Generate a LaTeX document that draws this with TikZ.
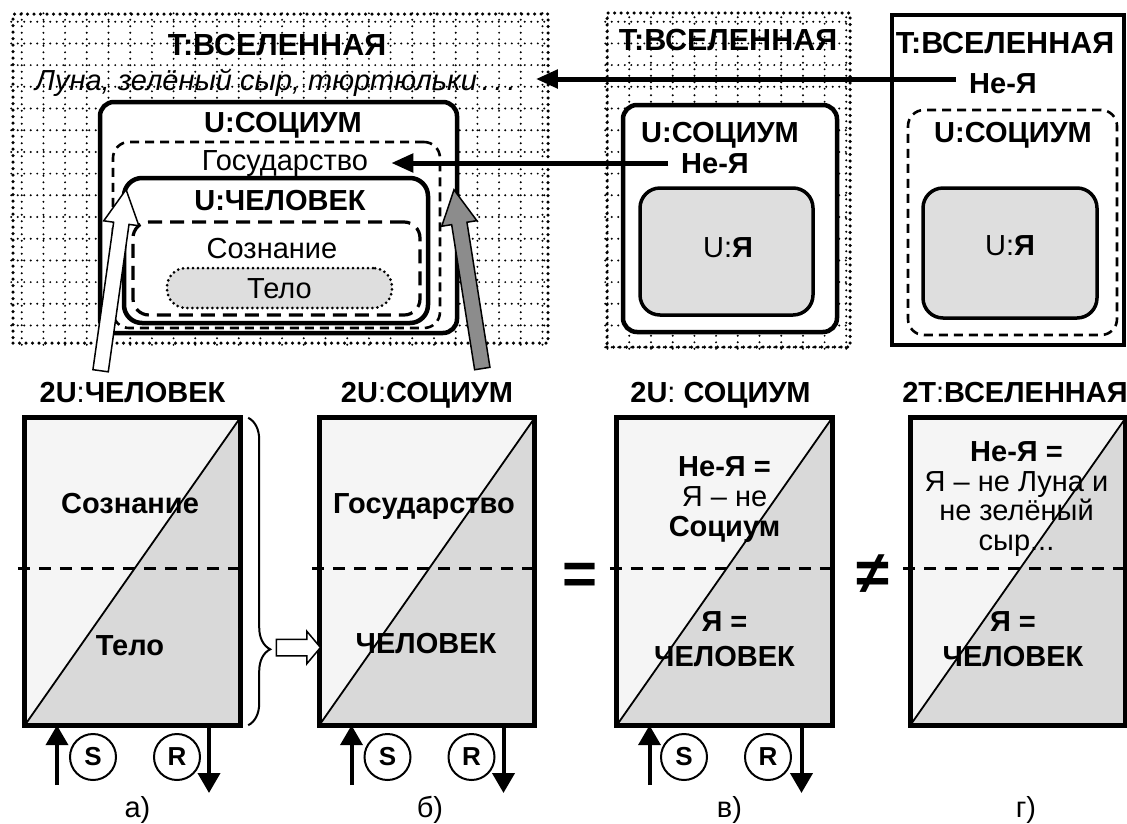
\documentclass[tikz,border=0pt]{standalone}
\usepackage{fontspec}
\setmainfont{Liberation Sans}
\usetikzlibrary{arrows.meta,positioning,shapes.arrows,decorations.pathreplacing}

\begin{document}
\begin{tikzpicture}[
  x=1pt, y=-1pt,
  txt/.style={inner sep=0pt, text height=21pt, text depth=0pt, font=\fontsize{29}{30}\selectfont},
  btxt/.style={txt, font=\fontsize{29}{30}\selectfont\bfseries},
  ttxt/.style={txt, font=\fontsize{30.5}{31}\selectfont\bfseries},
  multi/.style={inner sep=0pt, anchor=north, align=center, font=\fontsize{29}{30}\selectfont},
  panel/.style={draw, inner sep=0pt, line width=3.5pt, line cap=round, dash pattern=on 0pt off 6.5pt},
  gridline/.style={line width=2.2pt, line cap=round, dash pattern=on 0pt off 6.5pt},
  rbox/.style={draw, fill=white, inner sep=0pt, line width=4.5pt, rounded corners=14pt},
  dbox/.style={draw, inner sep=0pt, line width=2.6pt, dash pattern=on 9pt off 6pt, rounded corners=16pt},
  ybox/.style={draw, fill=black!13, inner sep=0pt, line width=3.5pt, rounded corners=20pt},
  conn/.style={line width=5pt, -{Triangle[length=22pt,width=18pt]}},
  fat/.style={single arrow, draw, line width=1.5pt, inner xsep=0pt, inner ysep=7pt,
    single arrow head extend=10pt, single arrow tip angle=55},
  pbox/.style={fill=black!4, inner sep=0pt, minimum width=215pt, minimum height=307pt},
  lower/.style={fill=black!15},
  diag/.style={line width=1.8pt},
  mid/.style={line width=3pt, dash pattern=on 12pt off 9pt, shorten <=-7pt, shorten >=-7pt},
  frame/.style={line width=5pt},
  brc/.style={decorate, decoration={brace, amplitude=22pt, aspect=0.753}, line width=2pt},
  sr/.style={circle, draw, line width=2pt, inner sep=0pt, minimum size=46pt, font=\fontsize{26}{26}\selectfont\bfseries},
  sig/.style={line width=4pt, -{Triangle[length=20pt,width=22pt]}},
  big/.style={inner sep=0pt, anchor=base, font=\fontsize{60}{60}\selectfont\bfseries}
]
  \useasboundingbox (0,0) rectangle (1127,823);

  % Panel izquierdo: T:ВСЕЛЕННАЯ con U:СОЦИУМ y U:ЧЕЛОВЕК
  \node[panel, minimum width=535pt, minimum height=329pt] (univL) at (280.5,178.5) {};
  \draw[gridline] (univL.south west) grid[step=21.7pt] (univL.north east);
  \node[ttxt] (tL) at (277,45) {T:ВСЕЛЕННАЯ};
  \node[txt, anchor=west, font=\fontsize{29}{30}\selectfont\itshape] (luna) at (35,80) {Луна, зелёный сыр, тюртюльки\,.\,.\,.};
  \node[rbox, minimum width=357pt, minimum height=231pt] (socL) at (278.5,217.5) {};
  \node[btxt] (socLt) at (283,122) {U:СОЦИУМ};
  \node[dbox, minimum width=327pt, minimum height=186pt] (gosL) at (276.5,235) {};
  \node[txt] (gos) at (285,160) {Государство};
  \node[rbox, rounded corners=18pt, minimum width=304pt, minimum height=145pt] (chelL) at (276,250.5) {};
  \node[btxt] (chelLt) at (280,200) {U:ЧЕЛОВЕК};
  \node[dbox, line width=3.2pt, dash pattern=on 14pt off 8pt, minimum width=287pt, minimum height=93pt] (sozL) at (276.5,268.5) {};
  \node[txt] (soz) at (272,248) {Сознание};
  \node[txt, draw, fill=black!13, line width=3pt, line cap=round, dash pattern=on 0pt off 5pt,
    rounded corners=19pt, minimum width=225pt, minimum height=40pt] (telo) at (279.5,288) {Тело};

  % Panel central
  \node[panel, minimum width=243pt, minimum height=334pt] (univM) at (728.5,180) {};
  \draw[gridline] (univM.south west) grid[step=21.7pt] (univM.north east);
  \node[ttxt] (tM) at (728,40) {T:ВСЕЛЕННАЯ};
  \node[rbox, minimum width=214pt, minimum height=227pt] (socM) at (730,218.5) {};
  \node[btxt] (socMt) at (720,132) {U:СОЦИУМ};
  \node[btxt] (neyaM) at (715,163) {Не-Я};
  \node[ybox, minimum width=173pt, minimum height=127pt] (yaM) at (726.5,251.5) {};
  \node[txt] (yaMt) at (728,247) {U:\textbf{Я}};

  % Panel derecho
  \node[draw, inner sep=0pt, line width=4pt, minimum width=232pt, minimum height=330pt] (univR) at (1008,180) {};
  \node[ttxt] (tR) at (1005,43) {T:ВСЕЛЕННАЯ};
  \node[btxt] (neyaT) at (1003,83) {Не-Я};
  \node[dbox, minimum width=209pt, minimum height=225pt] (socR) at (1012.5,222.5) {};
  \node[btxt] (socRt) at (1013,132) {U:СОЦИУМ};
  \node[ybox, minimum width=174pt, minimum height=130pt] (yaR) at (1010,253) {};
  \node[txt] (yaRt) at (1010,245) {U:\textbf{Я}};

  % Flechas Не-Я
  \draw[conn, shorten <=13pt, shorten >=20pt] ([yshift=4pt]neyaT.west) -- ([yshift=4pt]neyaT.west -| luna.east);
  \draw[conn, shorten <=13pt, shorten >=23pt] (neyaM.west) -- (neyaM.west -| gos.east);

  % Flechas anchas desde abajo
  \node[fat, fill=white, rotate=82, minimum height=183pt] (upC) at (112.3,287.5) {};
  \node[fat, fill=black!45, rotate=99, minimum height=181pt] (upS) at (469.3,286.5) {};

  % Rectángulos inferiores
  \node[pbox] (ba) at (132.5,571.5) {};
  \node[pbox] (bb) at (427,571.5) {};
  \node[pbox] (bc) at (724.5,571.5) {};
  \node[pbox] (bd) at (1018,571.5) {};

  \fill[lower] (ba.south west) -- (ba.south east) -- (ba.north east) -- cycle;
  \fill[lower] (bb.south west) -- (bb.south east) -- (bb.north east) -- cycle;
  \fill[lower] (bc.south west) -- (bc.south east) -- (bc.north east) -- cycle;
  \fill[lower] (bd.south west) -- (bd.south east) -- (bd.north east) -- cycle;
  \draw[diag] (ba.south west) -- (ba.north east);
  \draw[diag] (bb.south west) -- (bb.north east);
  \draw[diag] (bc.south west) -- (bc.north east);
  \draw[diag] (bd.south west) -- (bd.north east);
  \draw[mid] ([yshift=3.5pt]ba.west) -- ([yshift=3.5pt]ba.east);
  \draw[mid] ([yshift=3.5pt]bb.west) -- ([yshift=3.5pt]bb.east);
  \draw[mid] ([yshift=3.5pt]bc.west) -- ([yshift=3.5pt]bc.east);
  \draw[mid] ([yshift=3.5pt]bd.west) -- ([yshift=3.5pt]bd.east);
  \draw[frame] (ba.south west) rectangle (ba.north east);
  \draw[frame] (bb.south west) rectangle (bb.north east);
  \draw[frame] (bc.south west) rectangle (bc.north east);
  \draw[frame] (bd.south west) rectangle (bd.north east);

  % Encabezados
  \node[btxt, above=15pt of ba] (ha) {2U\textmd{:}ЧЕЛОВЕК};
  \node[btxt, above=15pt of bb] (hb) {2U\textmd{:}СОЦИУМ};
  \node[btxt, above=15pt of bc, xshift=-4pt] (hc) {2U\textmd{:} СОЦИУМ};
  \node[btxt, above=15pt of bd, xshift=-3pt] (hd) {2T\textmd{:}ВСЕЛЕННАЯ};

  % Textos dentro de los rectángulos
  \node[btxt] (sozA) at (130,503) {Сознание};
  \node[btxt] (telA) at (130,645) {Тело};
  \node[btxt] (gosB) at (424,503) {Государство};
  \node[btxt] (chelB) at (426,643) {ЧЕЛОВЕК};
  \node[multi] (neyaC) at (724.5,456.6) {\textbf{Не-Я =}\\Я – не\\\textbf{Социум}};
  \node[multi, font=\fontsize{29}{35}\selectfont\bfseries] (yaC) at (724.5,611.6) {Я =\\ЧЕЛОВЕК};
  \node[multi, font=\fontsize{29}{29.5}\selectfont] (neyaD) at (1016.5,441.6) {\textbf{Не-Я =}\\Я – не Луна и\\не зелёный\\сыр...};
  \node[multi, font=\fontsize{29}{35}\selectfont\bfseries] (yaD) at (1013,611.6) {Я =\\ЧЕЛОВЕК};

  % Llave y flecha hueca
  \draw[brc] ([xshift=8pt]ba.north east) -- ([xshift=8pt]ba.south east);
  \node[fat, fill=white, inner ysep=7.5pt, minimum height=44pt, single arrow head extend=8pt,
    single arrow tip angle=100] (toB) at (295,647.5) {};

  % Signos entre rectángulos
  \node[big] (eq) at (580,594) {=};
  \node[big] (neq) at (873,593) {≠};

  % Entradas S y salidas R
  \node[sr] (sA) at (93,757) {S};
  \node[sr] (rA) at (177,757) {R};
  \node[sr] (sB) at (387.5,757) {S};
  \node[sr] (rB) at (471.5,757) {R};
  \node[sr] (sC) at (684,757) {S};
  \node[sr] (rC) at (768,757) {R};
  \coordinate (inA) at (57,785);
  \coordinate (outA) at (209,793);
  \coordinate (inB) at (351.5,785);
  \coordinate (outB) at (503.5,793);
  \coordinate (inC) at (649.5,785);
  \coordinate (outC) at (801.5,793);
  \draw[sig] (inA) -- (inA |- ba.south);
  \draw[sig] (outA |- ba.south) -- (outA);
  \draw[sig] (inB) -- (inB |- bb.south);
  \draw[sig] (outB |- bb.south) -- (outB);
  \draw[sig] (inC) -- (inC |- bc.south);
  \draw[sig] (outC |- bc.south) -- (outC);

  % Etiquetas
  \node[txt, below=71.5pt of ba, xshift=5pt] (la) {а)};
  \node[txt, below=71.5pt of bb, xshift=3pt] (lb) {б)};
  \node[txt, below=71.5pt of bc, xshift=5pt] (lc) {в)};
  \node[txt, below=71.5pt of bd, xshift=8pt] (ld) {г)};
\end{tikzpicture}
\end{document}
